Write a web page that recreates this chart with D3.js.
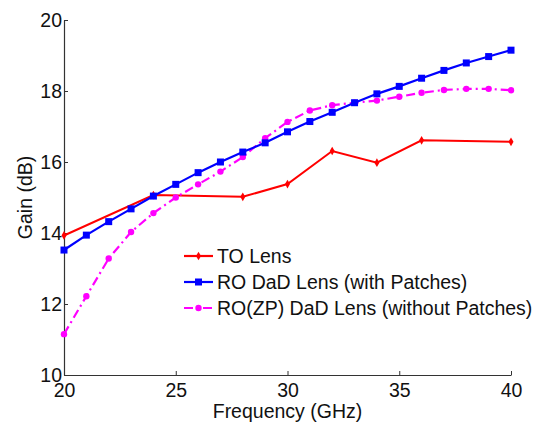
<!DOCTYPE html>
<html>
<head>
<meta charset="utf-8">
<script src="https://d3js.org/d3.v7.min.js"></script>
<style>
  body { margin: 0; background: #fff; }
  text { font-family: "Liberation Sans", Arial, sans-serif; }
</style>
</head>
<body>
<div id="chart"></div>
<script>
// data
let toFreq = [20, 24, 28, 30, 32, 34, 36, 40];
let toGain = [13.93, 15.07, 15.02, 15.38, 16.31, 15.98, 16.61, 16.57];

let freq = [20, 21, 22, 23, 24, 25, 26, 27, 28, 29, 30, 31, 32, 33, 34, 35, 36, 37, 38, 39, 40];
let roGain = [13.52, 13.94, 14.32, 14.68, 15.04, 15.37, 15.70, 16.00, 16.28, 16.54, 16.85,
              17.14, 17.40, 17.67, 17.92, 18.13, 18.36, 18.58, 18.79, 18.97, 19.15];
let zpGain = [11.15, 12.22, 13.28, 14.03, 14.56, 15.00, 15.37, 15.73, 16.14, 16.67, 17.13,
              17.45, 17.60, 17.67, 17.73, 17.84, 17.95, 18.03, 18.06, 18.06, 18.02];

let xTicks = [20, 25, 30, 35, 40];
let yTicks = [10, 12, 14, 16, 18, 20];
let names = ["TO Lens", "RO DaD Lens (with Patches)", "RO(ZP) DaD Lens (without Patches)"];

let svgWidth = 546, svgHeight = 425;
let margin = {top: 20, right: 35, bottom: 50, left: 64};
let width = svgWidth - margin.left - margin.right,
    height = svgHeight - margin.top - margin.bottom;
let fontSize = "19.5px";

let x = d3.scaleLinear().domain([20, 40]).range([0, width]);
let y = d3.scaleLinear().domain([10, 20]).range([height, 0]);

let svg = d3.select("#chart").append("svg")
    .attr("width", svgWidth)
    .attr("height", svgHeight);

let g = svg.append("g")
    .attr("transform", "translate(" + margin.left + "," + margin.top + ")");

// axes (MATLAB style, ticks pointing inward)
let xAxis = g.append("g")
    .attr("transform", "translate(0," + height + ")")
    .call(d3.axisBottom(x).tickValues(xTicks).tickSizeInner(-4).tickSizeOuter(0).tickPadding(8));
let yAxis = g.append("g")
    .call(d3.axisLeft(y).tickValues(yTicks).tickSizeInner(-4).tickSizeOuter(0).tickPadding(2));

[xAxis, yAxis].forEach(a => {
  a.select(".domain").attr("stroke", "#333").attr("stroke-width", 1.2);
  a.selectAll(".tick line").attr("stroke", "#333");
  a.selectAll(".tick text")
    .attr("font-family", "Liberation Sans, Arial, sans-serif")
    .attr("font-size", fontSize)
    .attr("fill", "#111");
});

g.append("text")
    .attr("x", width / 2)
    .attr("y", height + 43)
    .attr("text-anchor", "middle")
    .attr("font-size", fontSize)
    .attr("fill", "#111")
    .text("Frequency (GHz)");

g.append("text")
    .attr("transform", "translate(-32," + (height / 2) + ") rotate(-90)")
    .attr("text-anchor", "middle")
    .attr("font-size", fontSize)
    .attr("fill", "#111")
    .text("Gain (dB)");

let line = d3.line().x(d => x(d[0])).y(d => y(d[1]));

let toData = toFreq.map((f, i) => [f, toGain[i]]);
let roData = freq.map((f, i) => [f, roGain[i]]);
let zpData = freq.map((f, i) => [f, zpGain[i]]);

// TO lens
g.append("path").datum(toData)
    .attr("d", line)
    .attr("fill", "none")
    .attr("stroke", "#ff0000")
    .attr("stroke-width", 2);
g.selectAll(".to").data(toData).enter().append("path")
    .attr("class", "to")
    .attr("d", d3.symbol(d3.symbolDiamond, 22))
    .attr("transform", d => "translate(" + x(d[0]) + "," + y(d[1]) + ")")
    .attr("fill", "#ff0000");

// RO(ZP) lens, dash-dot
g.append("path").datum(zpData)
    .attr("d", line)
    .attr("fill", "none")
    .attr("stroke", "#ff00ff")
    .attr("stroke-width", 2.2)
    .attr("stroke-dasharray", "9,4,2,4");
g.selectAll(".zp").data(zpData).enter().append("circle")
    .attr("class", "zp")
    .attr("cx", d => x(d[0]))
    .attr("cy", d => y(d[1]))
    .attr("r", 3.2)
    .attr("fill", "#ff00ff");

// RO lens
g.append("path").datum(roData)
    .attr("d", line)
    .attr("fill", "none")
    .attr("stroke", "#0000ff")
    .attr("stroke-width", 2.2);
g.selectAll(".ro").data(roData).enter().append("rect")
    .attr("class", "ro")
    .attr("x", d => x(d[0]) - 3.5)
    .attr("y", d => y(d[1]) - 3.5)
    .attr("width", 7)
    .attr("height", 7)
    .attr("fill", "#0000ff");

// legend
let legend = svg.append("g").attr("transform", "translate(184,256)");
let colors = ["#ff0000", "#0000ff", "#ff00ff"];
names.forEach((n, i) => {
  let row = legend.append("g").attr("transform", "translate(0," + (i * 26) + ")");
  row.append("line")
      .attr("x1", 0).attr("x2", 29).attr("y1", 0).attr("y2", 0)
      .attr("stroke", colors[i])
      .attr("stroke-width", 2.2)
      .attr("stroke-dasharray", i == 2 ? "9,4,2,4" : null);
  if (i == 0) {
    row.append("path").attr("d", d3.symbol(d3.symbolDiamond, 22))
        .attr("transform", "translate(14.5,0)").attr("fill", colors[i]);
  } else if (i == 1) {
    row.append("rect").attr("x", 11).attr("y", -3.5).attr("width", 7).attr("height", 7)
        .attr("fill", colors[i]);
  } else {
    row.append("circle").attr("cx", 14.5).attr("cy", 0).attr("r", 3.2).attr("fill", colors[i]);
  }
  row.append("text")
      .attr("x", 33)
      .attr("y", 7)
      .attr("font-size", fontSize)
      .attr("fill", "#111")
      .text(n);
});
</script>
</body>
</html>
